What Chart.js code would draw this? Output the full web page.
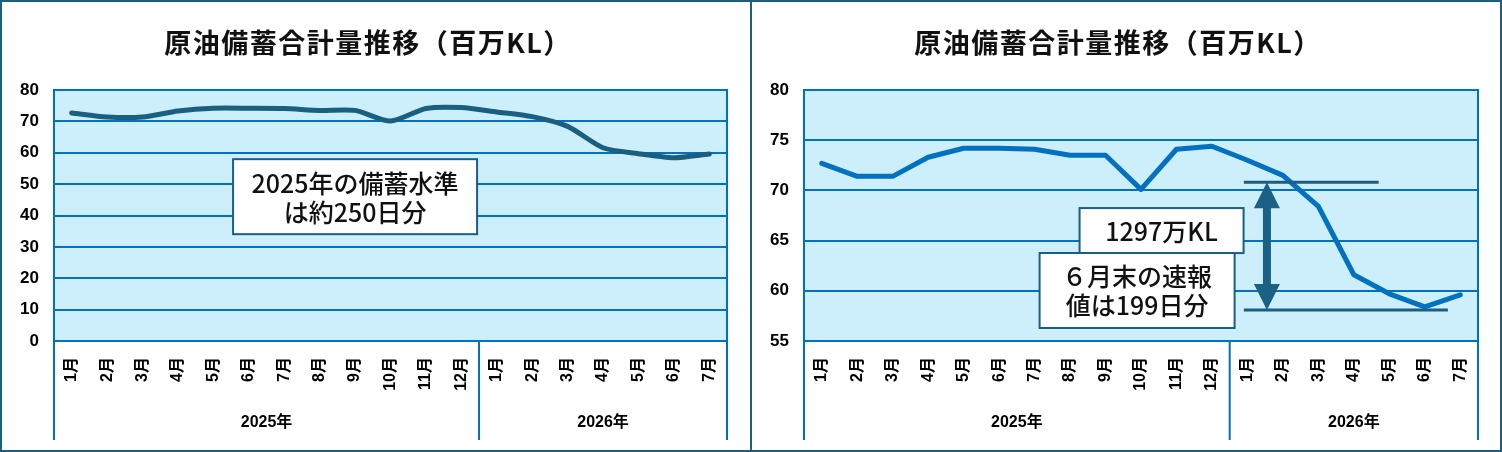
<!DOCTYPE html>
<html lang="ja">
<head>
<meta charset="utf-8">
<script src="https://cdn.jsdelivr.net/npm/chart.js@4.4.1/dist/chart.umd.min.js"></script>
<style>
  body { margin: 0; background: #fff; overflow: hidden; }
  #frame { width: 1502px; height: 452px; box-sizing: border-box; border: 2px solid #1b5e82; display: flex; }
  .panel { position: relative; width: 748px; height: 448px; }
  .divider { width: 2px; height: 448px; background: #1b5e82; }
</style>
</head>
<body>
<div id="frame">
  <div class="panel"><canvas id="reserveChartFull"></canvas></div>
  <div class="divider"></div>
  <div class="panel"><canvas id="reserveChartZoom"></canvas></div>
</div>
<script>
// chart data
const monthLabels = ['1月', '2月', '3月', '4月', '5月', '6月', '7月', '8月', '9月', '10月', '11月', '12月',
                     '1月', '2月', '3月', '4月', '5月', '6月', '7月'];
const yearLabels = ['2025年', '2026年'];
const monthsPerYear = [12, 7];
const reserveVolume = [72.7, 71.4, 71.4, 73.3, 74.2, 74.2, 74.1, 73.5, 73.5, 70.1, 74.1, 74.4,
                       73.0, 71.5, 68.4, 61.6, 59.7, 58.4, 59.6];
const chartTitle = '原油備蓄合計量推移（百万KL）';
const levelNote = ['2025年の備蓄水準', 'は約250日分'];
const dropNote = ['1297万KL'];
const reportNote = ['６月末の速報', '値は199日分'];
const dropLevels = [70.8, 58.1];

Chart.defaults.font.family = '"Liberation Sans", Arial, "Noto Sans CJK JP", sans-serif';
Chart.defaults.color = '#000';

const GRID_BLUE = '#0070c0';
const FRAME_BLUE = '#1b5e82';

// title, background, plot frame, year groups under the axis, note boxes, range arrow
const panelDecor = {
    id: 'panelDecor',
    beforeDraw(chart, args, opts) {
        const { ctx, chartArea: a } = chart;
        ctx.save();
        ctx.fillStyle = '#cdeefb';
        ctx.fillRect(a.left, a.top, a.right - a.left, a.bottom - a.top);

        // title (drawn here so the letter spacing can be set)
        ctx.fillStyle = '#111';
        ctx.font = 'bold 27px "Noto Sans CJK JP", sans-serif';
        ctx.letterSpacing = '1.5px';
        ctx.textAlign = 'center';
        ctx.textBaseline = 'middle';
        ctx.fillText(chartTitle, 366, 41);
        ctx.restore();
    },
    afterDatasetsDraw(chart, args, opts) {
        const { ctx } = chart;
        const xs = chart.scales.x;
        const ys = chart.scales.y;

        // range lines + double arrow
        if (opts.range) {
            const r = opts.range;
            const yTop = ys.getPixelForValue(r.levels[0]);
            const yBot = ys.getPixelForValue(r.levels[1]);
            ctx.save();
            ctx.strokeStyle = FRAME_BLUE;
            ctx.lineWidth = 3;
            ctx.beginPath();
            ctx.moveTo(xs.getPixelForValue(r.from), yTop);
            ctx.lineTo(xs.getPixelForValue(r.topTo), yTop);
            ctx.moveTo(xs.getPixelForValue(r.from), yBot);
            ctx.lineTo(xs.getPixelForValue(r.bottomTo), yBot);
            ctx.stroke();

            const ax = xs.getPixelForValue(r.arrowAt);
            const head = 26, half = 13;
            ctx.fillStyle = '#1b6185';
            ctx.fillRect(ax - 4, yTop + head - 1, 8, yBot - yTop - 2 * head + 2);
            ctx.beginPath();
            ctx.moveTo(ax, yTop);
            ctx.lineTo(ax + half, yTop + head);
            ctx.lineTo(ax - half, yTop + head);
            ctx.closePath();
            ctx.moveTo(ax, yBot);
            ctx.lineTo(ax + half, yBot - head);
            ctx.lineTo(ax - half, yBot - head);
            ctx.closePath();
            ctx.fill();
            ctx.restore();
        }

        // text boxes
        (opts.notes || []).forEach(note => {
            const cx = xs.getPixelForValue(note.x);
            const cy = ys.getPixelForValue(note.y);
            ctx.save();
            ctx.fillStyle = '#fff';
            ctx.strokeStyle = FRAME_BLUE;
            ctx.lineWidth = 2;
            ctx.fillRect(cx - note.w / 2, cy - note.h / 2, note.w, note.h);
            ctx.strokeRect(cx - note.w / 2, cy - note.h / 2, note.w, note.h);
            ctx.fillStyle = '#111';
            ctx.font = '500 25px "Noto Sans CJK JP", sans-serif';
            ctx.textAlign = 'center';
            ctx.textBaseline = 'middle';
            const lh = 29;
            note.text.forEach((line, i) => {
                ctx.fillText(line, cx, cy + (i - (note.text.length - 1) / 2) * lh + 1);
            });
            ctx.restore();
        });
    },
    afterDraw(chart, args, opts) {
        const { ctx, chartArea: a } = chart;
        const xs = chart.scales.x;
        ctx.save();
        ctx.strokeStyle = GRID_BLUE;
        ctx.lineWidth = 2;
        ctx.strokeRect(a.left, a.top, a.right - a.left, a.bottom - a.top);

        // year group separators and labels
        const bottom = chart.height - 10;
        let start = 0;
        ctx.font = 'bold 16px "Liberation Sans Narrow", "Liberation Sans", "Noto Sans CJK JP", sans-serif';
        ctx.fillStyle = '#000';
        ctx.textAlign = 'center';
        ctx.textBaseline = 'middle';
        ctx.beginPath();
        ctx.moveTo(xs.getPixelForValue(-0.5), a.bottom);
        ctx.lineTo(xs.getPixelForValue(-0.5), bottom);
        monthsPerYear.forEach((n, i) => {
            const x0 = xs.getPixelForValue(start - 0.5);
            const x1 = xs.getPixelForValue(start + n - 0.5);
            ctx.moveTo(x1, a.bottom);
            ctx.lineTo(x1, bottom);
            ctx.fillText(yearLabels[i], (x0 + x1) / 2, chart.height - 27);
            start += n;
        });
        ctx.stroke();
        ctx.restore();
    }
};

function makeReserveChart(canvasId, lineColor, tension, yMin, yStep, padRight, decor) {
    const ctx = document.getElementById(canvasId).getContext('2d');
    return new Chart(ctx, {
        type: 'line',
        data: {
            labels: monthLabels,
            datasets: [{
                data: reserveVolume,
                borderColor: lineColor,
                borderWidth: 5,
                tension: tension,
                borderJoinStyle: 'round',
                borderCapStyle: 'round',
                pointRadius: 0,
                fill: false
            }]
        },
        options: {
            responsive: true,
            maintainAspectRatio: false,
            animation: false,
            layout: { padding: { left: 0, right: padRight, top: 88, bottom: 0 } },
            plugins: {
                legend: { display: false },
                tooltip: { enabled: false },
                title: { display: false },
                panelDecor: decor
            },
            scales: {
                x: {
                    offset: true,
                    grid: { display: false },
                    border: { display: true, color: GRID_BLUE, width: 2 },
                    ticks: {
                        autoSkip: false,
                        minRotation: 90,
                        maxRotation: 90,
                        padding: 8,
                        font: { size: 16, weight: 'bold' }
                    },
                    afterFit(scale) { scale.height = 109; }
                },
                y: {
                    min: yMin,
                    max: 80,
                    grid: { color: GRID_BLUE, lineWidth: 2, drawTicks: false },
                    border: { display: true, color: GRID_BLUE, width: 2 },
                    ticks: { stepSize: yStep, padding: 15, font: { size: 17, weight: 'bold' } },
                    afterFit(scale) { scale.width = 52; }
                }
            }
        },
        plugins: [panelDecor]
    });
}

makeReserveChart('reserveChartFull', '#1a5f80', 0.25, 0, 10, 23, {
    notes: [{ text: levelNote, x: 8, y: 46, w: 244, h: 75 }]
});

makeReserveChart('reserveChartZoom', '#0070c0', 0, 55, 5, 22, {
    notes: [
        { text: dropNote, x: 9.58, y: 66.0, w: 164, h: 45 },
        { text: reportNote, x: 8.89, y: 60.03, w: 195, h: 75 }
    ],
    range: { levels: dropLevels, from: 11.9, topTo: 15.7, bottomTo: 17.65, arrowAt: 12.55 }
});
</script>
</body>
</html>
